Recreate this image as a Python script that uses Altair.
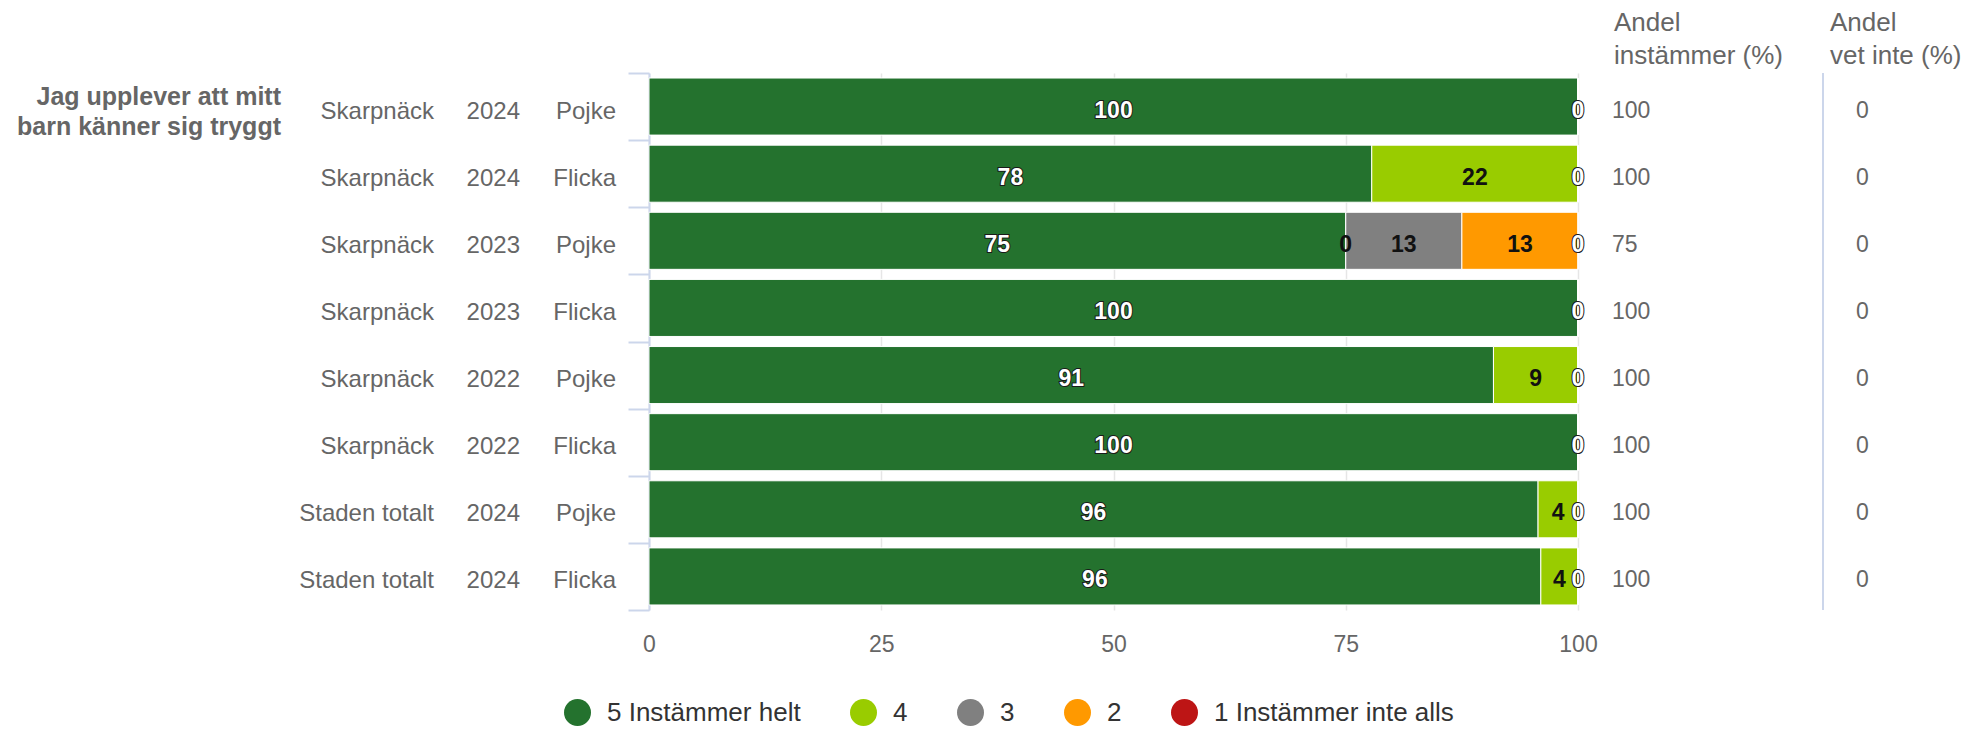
import altair as alt
import pandas as pd

# ---- data ----
regions = ["Skarpnäck", "Skarpnäck", "Skarpnäck", "Skarpnäck", "Skarpnäck", "Skarpnäck", "Staden totalt", "Staden totalt"]
years = ["2024", "2024", "2023", "2023", "2022", "2022", "2024", "2024"]
genders = ["Pojke", "Flicka", "Pojke", "Flicka", "Pojke", "Flicka", "Pojke", "Flicka"]

categories = ["5 Instämmer helt", "4", "3", "2", "1 Instämmer inte alls"]
cat_colors = ["#24722e", "#99cc00", "#808080", "#ff9900", "#bd1515"]

v5 = [100, 77.8, 75, 100, 90.9, 100, 95.7, 96]
v4 = [0, 22.2, 0, 0, 9.1, 0, 4.3, 4]
v3 = [0, 0, 12.5, 0, 0, 0, 0, 0]
v2 = [0, 0, 12.5, 0, 0, 0, 0, 0]
v1 = [0, 0, 0, 0, 0, 0, 0, 0]

andel_instammer = [100, 100, 75, 100, 100, 100, 100, 100]
andel_vet_inte = [0, 0, 0, 0, 0, 0, 0, 0]

question = "Jag upplever att mitt\nbarn känner sig tryggt"
header_instammer = "Andel\ninstämmer (%)"
header_vet_inte = "Andel\nvet inte (%)"
x_ticks = [0, 25, 50, 75, 100]

# ---- tables ----
keys = [f"r{i}" for i in range(len(regions))]
series = [v5, v4, v3, v2, v1]
long_rows = []
for ci, (cat, vals) in enumerate(zip(categories, series)):
    for i, k in enumerate(keys):
        long_rows.append({"key": k, "cat": cat, "ord": ci, "value": vals[i],
                          "short": cat.split(" ")[0]})
long_df = pd.DataFrame(long_rows)

rows_df = pd.DataFrame({"key": keys, "region": regions, "year": years, "gender": genders,
                        "a1": [str(v) for v in andel_instammer],
                        "a2": [str(v) for v in andel_vet_inte]})
q_df = pd.DataFrame({"key": [keys[0]], "q": [question]})
h1_df = pd.DataFrame({"h": [header_instammer]})
h2_df = pd.DataFrame({"h": [header_vet_inte]})

FONT = "Liberation Sans"
GREY = "#666666"
AXC = "#ccd6eb"

Y = alt.Y("key:N", sort=keys,
          scale=alt.Scale(paddingInner=0, paddingOuter=0),
          axis=alt.Axis(labels=False, title=None, tickBand="extent", tickColor=AXC,
                        tickSize=21, tickWidth=2, domainColor=AXC, domainWidth=2, grid=False))
XS = alt.Scale(domain=[0, 100], nice=False)

base = alt.Chart(long_df).transform_stack(
    stack="value", groupby=["key"], sort=[alt.SortField("ord", order="ascending")], as_=["x0", "x1"]
).transform_calculate(
    mid="(datum.x0 + datum.x1) / 2",
    label="format(datum.value, '.0f')",
    dark="indexof(['4','3','2'], datum.short) >= 0",
)

bars = base.mark_bar(height={"band": 0.85}, stroke="white", strokeWidth=1).encode(
    y=Y,
    x=alt.X("x0:Q", scale=XS,
            axis=alt.Axis(values=x_ticks, title=None, domain=False, ticks=False, labelPadding=23,
                          labelFontSize=23, labelColor=GREY, gridColor="#e6e6e6", gridWidth=1.5,
                          labelFlush=False, format="d")),
    x2="x1:Q",
    color=alt.Color("cat:N", scale=alt.Scale(domain=categories, range=cat_colors),
                    legend=alt.Legend(orient="none", legendX=-85, legendY=626, direction="horizontal",
                                      title=None, symbolType="circle", symbolSize=729,
                                      symbolStrokeWidth=0, labelFontSize=26, labelColor="#333333",
                                      labelOffset=16, columnPadding=49, padding=0, labelLimit=400)),
    order=alt.Order("ord:Q"),
)

# labels: hide zero labels that would pile up at the bar end (keep the last one only)
lab = base.transform_filter("datum.value > 0 || datum.ord == 4 || datum.x1 < 99.99")
lab_dark = lab.transform_filter("datum.dark")
lab_light = lab.transform_filter("!datum.dark")

dark_front = lab_dark.mark_text(fontSize=23, fontWeight="bold", fill="#111111",
                                baseline="middle", dy=4).encode(
    y=Y, x=alt.X("mid:Q", scale=XS), text="label:N")
light_back = lab_light.mark_text(fontSize=23, fontWeight="bold", stroke="#1a1a1a", strokeWidth=2,
                                 fill="#1a1a1a", baseline="middle", dy=4).encode(
    y=Y, x=alt.X("mid:Q", scale=XS), text="label:N")
light_front = lab_light.mark_text(fontSize=23, fontWeight="bold", fill="white",
                                  baseline="middle", dy=4).encode(
    y=Y, x=alt.X("mid:Q", scale=XS), text="label:N")

row_base = alt.Chart(rows_df)
lab_region = row_base.mark_text(align="right", baseline="middle", fontSize=24, color=GREY, dy=5).encode(
    y=Y, x=alt.value(-215), text="region:N")
lab_year = row_base.mark_text(align="right", baseline="middle", fontSize=24, color=GREY, dy=5).encode(
    y=Y, x=alt.value(-129), text="year:N")
lab_gender = row_base.mark_text(align="right", baseline="middle", fontSize=24, color=GREY, dy=5).encode(
    y=Y, x=alt.value(-33), text="gender:N")
col1 = row_base.mark_text(align="left", baseline="middle", fontSize=23, color=GREY, dy=4).encode(
    y=Y, x=alt.value(963), text="a1:N")
col2 = row_base.mark_text(align="left", baseline="middle", fontSize=23, color=GREY, dy=4).encode(
    y=Y, x=alt.value(1207), text="a2:N")

qtext = alt.Chart(q_df).mark_text(align="right", baseline="middle", lineBreak="\n", fontSize=25,
                                  fontWeight="bold", color=GREY, lineHeight=30, dy=-10).encode(
    y=Y, x=alt.value(-368), text="q:N")

h1 = alt.Chart(h1_df).mark_text(align="left", baseline="middle", lineBreak="\n", fontSize=26,
                                color=GREY, lineHeight=33).encode(
    x=alt.value(965), y=alt.value(-50), text="h:N")
h2 = alt.Chart(h2_df).mark_text(align="left", baseline="middle", lineBreak="\n", fontSize=26,
                                color=GREY, lineHeight=33).encode(
    x=alt.value(1181), y=alt.value(-50), text="h:N")
sep = alt.Chart(h1_df).mark_rule(color=AXC, strokeWidth=2).encode(
    x=alt.value(1174), y=alt.value(0), y2=alt.value(537))

chart = alt.layer(
    bars, dark_front, light_back, light_front,
    lab_region, lab_year, lab_gender, col1, col2, qtext, h1, h2, sep
).properties(
    width=929, height=537,
    autosize=alt.AutoSizeParams(type="none"),
    padding={"left": 641, "top": 65, "right": 386, "bottom": 116},
).configure(font=FONT).configure_view(strokeWidth=0)

chart.save("out.html", embed_options={"renderer": "svg", "actions": False})
